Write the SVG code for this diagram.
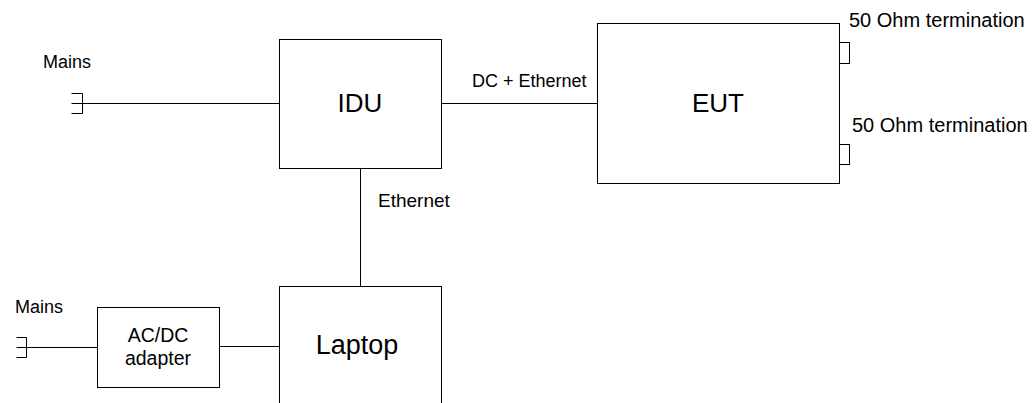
<svg xmlns="http://www.w3.org/2000/svg" width="1035" height="403" viewBox="0 0 1035 403">
<style>
.box{fill:#fff;stroke:#000;stroke-width:1}
.ln{fill:none;stroke:#000;stroke-width:1}
text{font-family:"Liberation Sans",Arial,sans-serif;fill:#000}
.big{font-size:26px;text-anchor:middle}
.lbl{font-size:18px}
</style>
<rect width="1035" height="403" fill="#fff"/>
<g id="connectors">
<path class="ln" d="M71.5 103.5H279.5"/>
<path class="ln" d="M71.5 93.5H82.5V113.5H71.5"/>
<path class="ln" d="M441.5 103.5H597.5"/>
<path class="ln" d="M360.5 168.5V286.5"/>
<path class="ln" d="M16.5 347.5H97.5"/>
<path class="ln" d="M16.5 337.5H26.5V357.5H16.5"/>
<path class="ln" d="M219.5 346.5H279.5"/>
<text class="lbl" x="472" y="87">DC + Ethernet</text>
<text class="lbl" x="378" y="207" style="font-size:19px">Ethernet</text>
</g>
<g id="mains1"><text class="lbl" x="43" y="68">Mains</text></g>
<g id="mains2"><text class="lbl" x="15" y="313">Mains</text></g>
<g id="idu">
<rect class="box" x="279.5" y="39.5" width="162" height="129"/>
<text class="big" x="360" y="112">IDU</text>
</g>
<g id="eut">
<rect class="box" x="597.5" y="23.5" width="242" height="160"/>
<text class="big" x="718" y="112">EUT</text>
</g>
<g id="term1">
<rect class="box" x="839.5" y="42.5" width="10" height="21"/>
<text x="849" y="27" style="font-size:20px">50 Ohm termination</text>
</g>
<g id="term2">
<rect class="box" x="839.5" y="144.5" width="10" height="20"/>
<text x="852" y="132" style="font-size:20px">50 Ohm termination</text>
</g>
<g id="adapter">
<rect class="box" x="97.5" y="307.5" width="122" height="80"/>
<text x="158" y="342" style="font-size:19.5px;text-anchor:middle">AC/DC</text>
<text x="158" y="365" style="font-size:19.5px;text-anchor:middle">adapter</text>
</g>
<g id="laptop">
<rect class="box" x="279.5" y="286.5" width="162" height="140"/>
<text x="357" y="354" style="font-size:27px;text-anchor:middle">Laptop</text>
</g>
</svg>
